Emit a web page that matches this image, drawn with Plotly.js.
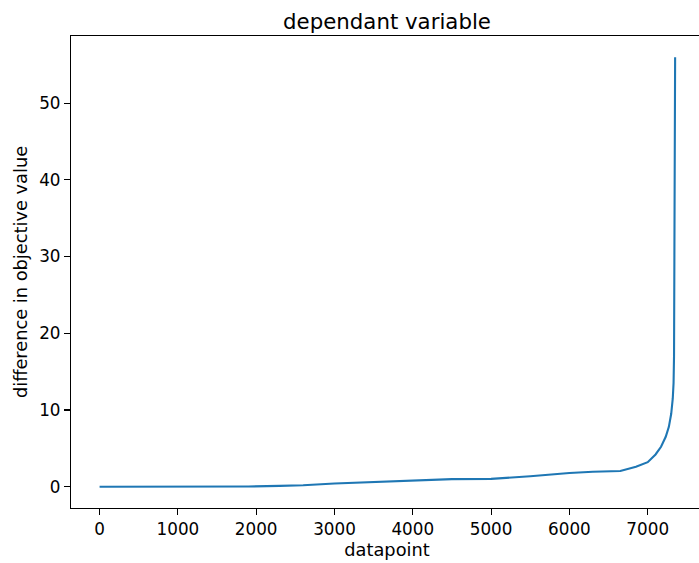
<!DOCTYPE html>
<html>
<head>
<meta charset="utf-8">
<script src="https://cdn.plot.ly/plotly-3.0.1.min.js"></script>
<style>
html,body{margin:0;padding:0;overflow:hidden;background:#fff;}
#chart{width:704px;height:563px;}
</style>
</head>
<body>
<div id="chart"></div>
<script>
const datapoint = [0, 500, 1000, 1500, 1900, 2300, 2600, 3000, 3500, 4000, 4500, 5000, 5500, 6000, 6300, 6650, 6850, 7000, 7100, 7170, 7230, 7270, 7300, 7320, 7330, 7336, 7340, 7345, 7350];
const diffValue = [0, 0, 0, 0, 0.02, 0.1, 0.18, 0.42, 0.62, 0.83, 0.98, 1.02, 1.35, 1.78, 1.95, 2.05, 2.6, 3.2, 4.2, 5.2, 6.5, 7.8, 9.5, 11.5, 13.5, 17, 24, 37, 56];
const xTicks = [0, 1000, 2000, 3000, 4000, 5000, 6000, 7000];
const yTicks = [0, 10, 20, 30, 40, 50];

const tickFont = {family: 'DejaVu Sans', size: 16.8, color: '#000'};
const labelFont = {family: 'DejaVu Sans', size: 17.8, color: '#000'};
const trace = {
  x: datapoint, y: diffValue, type: 'scatter', mode: 'lines',
  line: {color: '#1f77b4', width: 2.1}, hoverinfo: 'none'
};
const axisBase = {
  showgrid: false, zeroline: false, showline: true, mirror: true,
  linecolor: '#000', linewidth: 1.1, ticks: 'outside', ticklen: 6,
  tickwidth: 1.1, tickcolor: '#000', tickfont: tickFont
};
const layout = {
  width: 704, height: 563,
  margin: {l: 71, r: 1, t: 36, b: 55},
  paper_bgcolor: '#fff', plot_bgcolor: '#fff',
  font: tickFont, showlegend: false,
  title: {text: 'dependant variable', font: {family: 'DejaVu Sans', size: 21.3, color: '#000'},
          x: 0.5, xref: 'paper', y: 1, yref: 'paper', yanchor: 'bottom', pad: {b: 7}},
  xaxis: Object.assign({}, axisBase, {
    range: [-365, 7706], tickvals: xTicks, ticktext: xTicks.map(String),
    title: {text: 'datapoint', font: labelFont, standoff: 4}
  }),
  yaxis: Object.assign({}, axisBase, {
    range: [-2.78, 58.76], tickvals: yTicks, ticktext: yTicks.map(String),
    title: {text: 'difference in objective value', font: labelFont, standoff: 7}
  })
};
Plotly.newPlot('chart', [trace], layout, {displayModeBar: false, staticPlot: true});
</script>
</body>
</html>
